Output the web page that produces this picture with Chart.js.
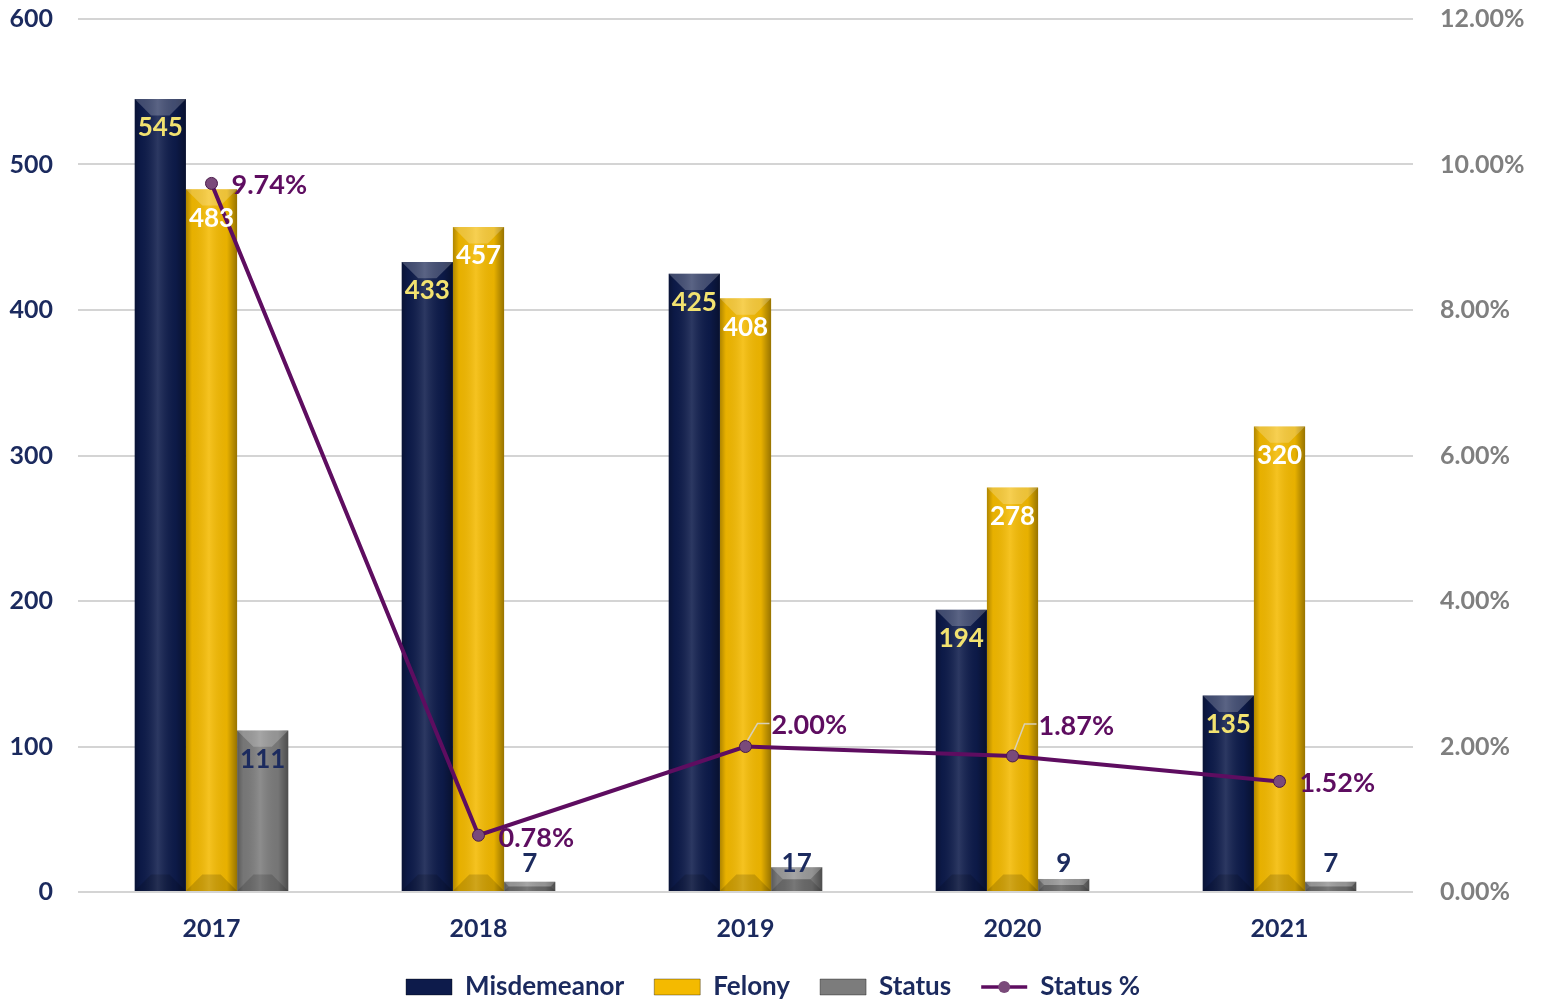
<!DOCTYPE html>
<html>
<head>
<meta charset="utf-8">
<script src="https://cdn.jsdelivr.net/npm/chart.js@4/dist/chart.umd.min.js"></script>
<style>
  html, body { margin: 0; padding: 0; background: #fff; }
  #wrap { width: 1546px; height: 999px; }
</style>
</head>
<body>
<div id="wrap"><canvas id="myChart"></canvas></div>
<script>
var years = ['2017', '2018', '2019', '2020', '2021'];
var misdemeanorCount = [545, 433, 425, 194, 135];
var felonyCount = [483, 457, 408, 278, 320];
var statusCount = [111, 7, 17, 9, 7];
var statusPct = [9.74, 0.78, 2.00, 1.87, 1.52];

var FONT = 'Lato, "Open Sans", sans-serif';
var NAVY = '#0d1b4b';
var GOLD = '#f4ba00';
var GREY = '#7c7c7c';
var PURPLE = '#5e0d60';

// where each % label sits relative to its point (dx, dy) and whether a leader line is drawn
var pctLabelPos = [[20, 2, false], [20, 3, false], [26, -21, true], [26, -30, true], [20, 2, false]];

// shading on top of the flat bar colours, to get close to the bevelled Excel look
var barShade = {
    id: 'barShade',
    afterDatasetDraw: function (chart, args) {
        var meta = args.meta;
        if (meta.type !== 'bar') return;
        var ctx = chart.ctx;
        ctx.save();
        meta.data.forEach(function (el) {
            if (!isFinite(el.x) || !isFinite(el.width)) return;
            var left = el.x - el.width / 2, right = el.x + el.width / 2;
            var top = Math.min(el.y, el.base), bottom = Math.max(el.y, el.base);
            var g = ctx.createLinearGradient(left, 0, right, 0);
            g.addColorStop(0, 'rgba(0,0,0,0.28)');
            g.addColorStop(0.12, 'rgba(0,0,0,0.05)');
            g.addColorStop(0.45, 'rgba(255,255,255,0.13)');
            g.addColorStop(0.8, 'rgba(0,0,0,0.05)');
            g.addColorStop(1, 'rgba(0,0,0,0.38)');
            ctx.fillStyle = g;
            ctx.fillRect(left, top, right - left, bottom - top);
            // top bevel
            var h = Math.min(el.width * 0.32, (bottom - top) / 2);
            ctx.beginPath();
            ctx.moveTo(left, top);
            ctx.lineTo(right, top);
            ctx.lineTo(right - h, top + h);
            ctx.lineTo(left + h, top + h);
            ctx.closePath();
            ctx.fillStyle = 'rgba(255,255,255,0.22)';
            ctx.fill();
            // bottom bevel
            ctx.beginPath();
            ctx.moveTo(left, bottom);
            ctx.lineTo(right, bottom);
            ctx.lineTo(right - h, bottom - h);
            ctx.lineTo(left + h, bottom - h);
            ctx.closePath();
            ctx.fillStyle = 'rgba(0,0,0,0.15)';
            ctx.fill();
        });
        ctx.restore();
    }
};

var valueLabels = {
    id: 'valueLabels',
    afterDatasetsDraw: function (chart) {
        var ctx = chart.ctx;
        ctx.save();
        ctx.font = 'bold 26px ' + FONT;
        ctx.textBaseline = 'middle';
        var colours = ['#f2e270', '#ffffff', '#1c2b5e'];
        [0, 1, 2].forEach(function (di) {
            var meta = chart.getDatasetMeta(di);
            var vals = chart.data.datasets[di].data;
            ctx.fillStyle = colours[di];
            ctx.textAlign = 'center';
            meta.data.forEach(function (el, i) {
                var y = el.y + 29;
                if (di === 2) y = Math.min(el.y + 29, chart.chartArea.bottom - 28);
                ctx.fillText(String(vals[i]), el.x, y);
            });
        });
        var lm = chart.getDatasetMeta(3);
        ctx.font = 'bold 27px ' + FONT;
        ctx.fillStyle = PURPLE;
        ctx.textAlign = 'left';
        lm.data.forEach(function (pt, i) {
            var p = pctLabelPos[i];
            if (p[2]) {
                ctx.strokeStyle = '#d8d0b8';
                ctx.lineWidth = 1.5;
                ctx.beginPath();
                ctx.moveTo(pt.x + 2, pt.y - 6);
                ctx.lineTo(pt.x + 12, pt.y + p[1] - 2);
                ctx.lineTo(pt.x + p[0] - 2, pt.y + p[1] - 2);
                ctx.stroke();
            }
            ctx.fillText(statusPct[i].toFixed(2) + '%', pt.x + p[0], pt.y + p[1]);
        });
        ctx.restore();
    }
};

// line + marker on the "Status %" legend entry
var legendDot = {
    id: 'legendDot',
    afterDraw: function (chart) {
        var lg = chart.legend;
        if (!lg || !lg.legendHitBoxes) return;
        var idx = lg.legendItems.findIndex(function (it) { return it.datasetIndex === 3; });
        var hb = lg.legendHitBoxes[idx];
        if (!hb) return;
        var ctx = chart.ctx;
        var cy = hb.top + hb.height / 2;
        ctx.save();
        ctx.strokeStyle = PURPLE;
        ctx.lineWidth = 3.5;
        ctx.beginPath();
        ctx.moveTo(hb.left, cy);
        ctx.lineTo(hb.left + 46, cy);
        ctx.stroke();
        ctx.beginPath();
        ctx.arc(hb.left + 23, cy, 6, 0, Math.PI * 2);
        ctx.fillStyle = '#7a4a7a';
        ctx.fill();
        ctx.restore();
    }
};

new Chart(document.getElementById('myChart'), {
    type: 'bar',
    data: {
        labels: years,
        datasets: [
            { label: 'Misdemeanor', data: misdemeanorCount, backgroundColor: NAVY, yAxisID: 'y', order: 2 },
            { label: 'Felony', data: felonyCount, backgroundColor: GOLD, yAxisID: 'y', order: 2 },
            { label: 'Status', data: statusCount, backgroundColor: GREY, yAxisID: 'y', order: 2 },
            {
                label: 'Status %', type: 'line', data: statusPct, yAxisID: 'y1', order: 1,
                borderColor: PURPLE, backgroundColor: PURPLE, borderWidth: 4,
                pointRadius: 6, pointBackgroundColor: '#7a4a7a', pointBorderColor: '#4a1a4a',
                pointBorderWidth: 1, tension: 0
            }
        ]
    },
    options: {
        responsive: true,
        maintainAspectRatio: false,
        animation: false,
        layout: { padding: { top: 19, left: 0, right: 0, bottom: -11 } },
        datasets: { bar: { categoryPercentage: 0.575, barPercentage: 1 } },
        plugins: {
            tooltip: { enabled: false },
            legend: {
                position: 'bottom',
                sort: function (a, b) { return a.datasetIndex - b.datasetIndex; },
                labels: {
                    color: '#1b2a5e',
                    font: { family: FONT, size: 26, weight: 'bold' },
                    boxWidth: 46,
                    boxHeight: 16,
                    padding: 30,
                    generateLabels: function (chart) {
                        return chart.data.datasets.map(function (ds, i) {
                            var isLine = ds.type === 'line';
                            return {
                                text: ds.label,
                                datasetIndex: i,
                                fillStyle: isLine ? 'rgba(0,0,0,0)' : ds.backgroundColor,
                                strokeStyle: isLine ? 'rgba(0,0,0,0)' : 'rgba(0,0,0,0.35)',
                                lineWidth: isLine ? 0 : 1,
                                fontColor: '#1b2a5e',
                                hidden: false
                            };
                        });
                    }
                }
            }
        },
        scales: {
            x: {
                grid: { display: false },
                border: { display: false },
                ticks: { color: '#1b2a5e', font: { family: FONT, size: 25, weight: 'bold' }, padding: 14 },
                afterFit: function (s) { s.height = 52; }
            },
            y: {
                position: 'left',
                min: 0, max: 600,
                ticks: { stepSize: 100, color: '#1b2a5e', font: { family: FONT, size: 25, weight: 'bold' }, padding: 0 },
                grid: { color: '#d4d4d4', lineWidth: 2, drawTicks: true, tickLength: 25, tickColor: 'rgba(0,0,0,0)' },
                border: { display: false },
                afterFit: function (s) { s.width = 78; }
            },
            y1: {
                position: 'right',
                min: 0, max: 12,
                ticks: {
                    stepSize: 2, color: '#7f7f7f', font: { family: FONT, size: 25, weight: 'bold' }, padding: 0,
                    callback: function (v) { return v.toFixed(2) + '%'; }
                },
                grid: { display: true, drawOnChartArea: false, drawTicks: true, tickLength: 27, tickColor: 'rgba(0,0,0,0)' },
                border: { display: false },
                afterFit: function (s) { s.width = 133; }
            }
        }
    },
    plugins: [barShade, valueLabels, legendDot]
});
</script>
</body>
</html>
